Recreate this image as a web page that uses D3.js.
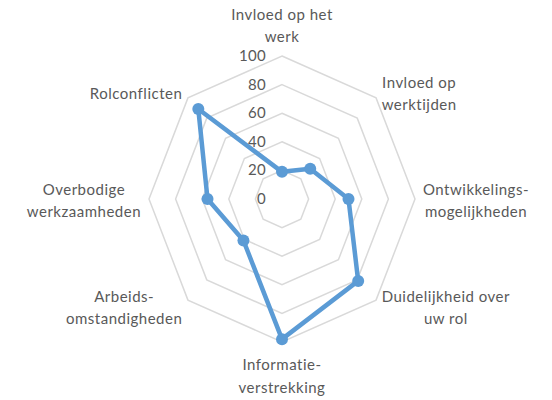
<!DOCTYPE html>
<html lang="nl">
<head>
<meta charset="UTF-8">
<title>Radar</title>
<script src="https://d3js.org/d3.v7.min.js"></script>
<style>
  body { margin: 0; background: #fff; }
  text { font-family: Lato, "Open Sans", sans-serif; fill: #595959; }
</style>
</head>
<body>
<svg id="chart" width="552" height="400"></svg>
<script>
// categories (one label per spoke, lines split by "|")
const categories = [
  "Invloed op het|werk",
  "Invloed op|werktijden",
  "Ontwikkelings-|mogelijkheden",
  "Duidelijkheid over|uw rol",
  "Informatie-|verstrekking",
  "Arbeids-|omstandigheden",
  "Overbodige|werkzaamheden",
  "Rolconflicten"
];
const values = [19, 30, 50, 81, 98, 41, 56, 89];
const ticks = [0, 20, 40, 60, 80, 100];

const svg = d3.select("#chart");
const cx = 282, cy = 199;
const rx = 133, ry = 143;   // picture is slightly stretched vertically

const rScaleX = d3.scaleLinear().domain([0, 100]).range([0, rx]);
const rScaleY = d3.scaleLinear().domain([0, 100]).range([0, ry]);
const angle = d3.scaleLinear().domain([0, categories.length]).range([0, 2 * Math.PI]);

function pt(i, v) {
  const a = angle(i);
  return [cx + Math.sin(a) * rScaleX(v), cy - Math.cos(a) * rScaleY(v)];
}

// grid rings
const ringLine = d3.line().curve(d3.curveLinearClosed);
svg.append("g").selectAll("path")
  .data(ticks.filter(t => t > 0))
  .join("path")
  .attr("d", t => ringLine(categories.map((c, i) => pt(i, t))))
  .attr("fill", "none")
  .attr("stroke", "#d9d9d9")
  .attr("stroke-width", 1.5);

// tick labels
svg.append("g").selectAll("text")
  .data(ticks)
  .join("text")
  .attr("x", cx - 16)
  .attr("y", t => cy - rScaleY(t) + 5)
  .attr("text-anchor", "end")
  .style("font-size", "15px")
  .style("letter-spacing", "0.3px")
  .text(t => t);

// data series
svg.append("path")
  .attr("d", ringLine(values.map((v, i) => pt(i, v))))
  .attr("fill", "none")
  .attr("stroke", "#5b9bd5")
  .attr("stroke-width", 4.5)
  .attr("stroke-linejoin", "round");

svg.append("g").selectAll("circle")
  .data(values)
  .join("circle")
  .attr("cx", (v, i) => pt(i, v)[0])
  .attr("cy", (v, i) => pt(i, v)[1])
  .attr("r", 6)
  .attr("fill", "#5b9bd5");

// category labels
const lineH = 22.5;
categories.forEach((c, i) => {
  const lines = c.split("|");
  const a = angle(i);
  const sx = Math.sin(a), sy = -Math.cos(a);
  const px = cx + sx * (rx + 8), py = cy + sy * (ry + 8);
  const g = svg.append("g");
  const texts = g.selectAll("text").data(lines).join("text")
    .style("font-size", "15px")
    .style("letter-spacing", "0.5px")
    .attr("text-anchor", "middle")
    .text(d => d);
  const w = d3.max(texts.nodes(), n => n.getComputedTextLength());
  let mid, firstY;
  if (Math.abs(sx) < 0.1) {
    mid = px;
    firstY = sy < 0 ? py - 6 - (lines.length - 1) * lineH : py + 20;
  } else {
    mid = sx > 0 ? px + w / 2 : px - w / 2;
    firstY = py + 7 - (lines.length - 1) * lineH / 2;
  }
  texts.attr("x", mid).attr("y", (d, k) => firstY + k * lineH);
});
</script>
</body>
</html>
